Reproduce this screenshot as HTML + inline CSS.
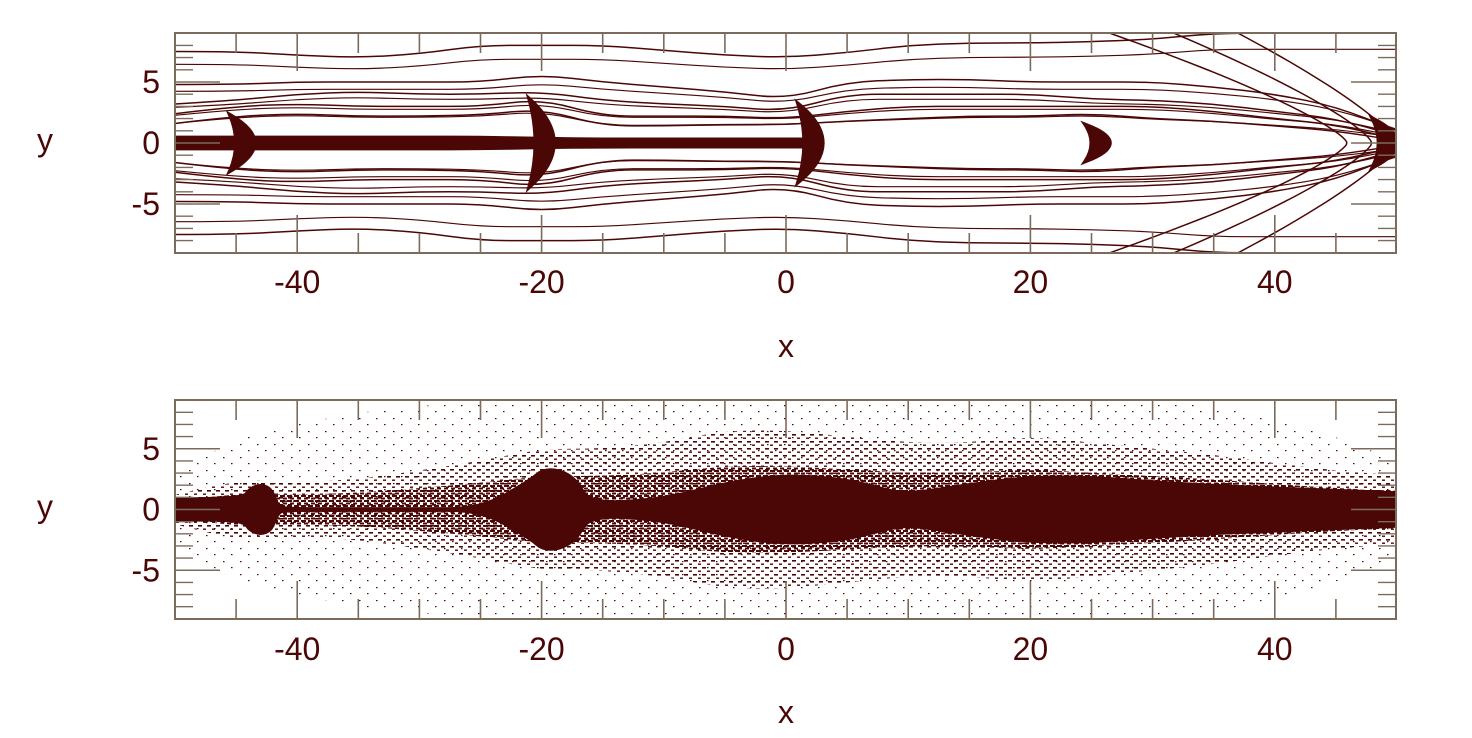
<!DOCTYPE html>
<html><head><meta charset="utf-8"><style>
body{margin:0;background:#fff;}
svg{display:block;font-family:"Liberation Sans",sans-serif;}
</style></head><body>
<svg id="c" width="1472" height="738" viewBox="0 0 1472 738"></svg>
<script>
const xsGrid=[-50,-45,-40,-35,-30,-25,-20,-15,-10,-5,0,5,10,15,20,25,30,35,40,45,50];
const contourL1=[7.5,7.5,7.2,7,7.3,8,8,8,7.6,7.2,7,7.4,8,8.2,8.2,8.3,8.5,9,9,9,9];
const contourL2=[4.8,4.8,5,5,5,5,5.6,5,4.6,4.2,3.6,5,5.2,5.2,5,5,5,4.6,4,3,1];
const contourL3=[3.2,3.5,4,4.2,4,4,4.2,3.5,3.2,3,2.6,4,4,4,4,3.6,3.5,3.2,2.6,2,0.6];
const contourL4=[2.4,3,3.2,3,3,3,3.6,2.2,2.2,2.2,2,2.6,3,3,3,3,3,2.6,2,1.5,0.3];
const contourL5=[1.6,2.2,2.4,2.2,2.2,2.3,2.8,1.4,1.4,1.5,1.5,1.8,2,2.2,2.2,2.4,2,1.8,1.4,1,0.2];
const bowOffsets=[0,2,4];
const blobX=[-44,-19.5,2.5,26,49.5];
const blobHalfH=[2.3,3.6,3.2,1.5,2];
const coreX=[-50,-45,-40,-35,-30,-25,-20,-15,-10,-5,0,3];
const coreHalf=[0.6,0.6,0.6,0.6,0.6,0.6,0.5,0.45,0.45,0.45,0.45,0.45];
const denseX=[-50,-44.5,-44,-43,-42,-41.5,-41,-35,-30,-25,-21,-20,-18.5,-17,-16,-10,-5,0,5,8,10,15,20,25,30,35,40,45,50];
const denseHalf=[1,1,1.8,2.2,1.8,0.4,0.2,0.2,0.2,0.2,2.5,3.4,3.4,2.5,0.6,1,2.3,3,2.6,1.8,1.4,2.2,2.8,2.8,2.4,2.1,1.9,1.7,1.5];
const scatterX=[-50,-45,-40,-35,-30,-25,-20,-15,-10,-5,0,5,10,15,20,25,30,35,40,45,50];
const scatterHalf=[1.2,2.5,2.2,2.5,3.2,4,5,5,5.5,6.5,6.5,6,5.5,5.5,6,5.5,5,4.5,3.8,3.2,2.8];
const sparseHalf=[3,6,7,8,8.5,9,9,9,9,9,9,9,9,9,9,9,9,8.5,7.5,6,4];
const xTicks=[-40,-20,0,20,40];
const yTicks=[5,0,-5];

const svg=document.getElementById('c');
const NS='http://www.w3.org/2000/svg';
const INK='#4a0706', AX='#7b6b5c';
function el(t,a,p){const e=document.createElementNS(NS,t);for(const k in a)e.setAttribute(k,a[k]);(p||svg).appendChild(e);return e;}
const X=x=>175+(x+50)*12.22;
const Y1=y=>143-y*12.2;
const Y2=y=>509.5-y*12.15;
function smooth(pts){let d='M'+pts[0][0]+','+pts[0][1];for(let i=1;i<pts.length-1;i++){const mx=(pts[i][0]+pts[i+1][0])/2,my=(pts[i][1]+pts[i+1][1])/2;d+=' Q'+pts[i][0]+','+pts[i][1]+' '+mx+','+my;}const l=pts[pts.length-1];d+=' L'+l[0]+','+l[1];return d;}
function band(xs,hs,Y){const up=xs.map((x,i)=>[X(x),Y(hs[i])]);const dn=xs.map((x,i)=>[X(x),Y(-hs[i])]).reverse();return smooth(up)+' L'+dn[0][0]+','+dn[0][1]+' '+smooth(dn).slice(1)+' Z';}

const defs=el('defs',{});
const pat=el('pattern',{id:'dots',width:9,height:7,patternUnits:'userSpaceOnUse'},defs);
el('rect',{x:0,y:0,width:4,height:1.6,fill:INK},pat);
el('rect',{x:5,y:3.5,width:3,height:1.4,fill:INK},pat);
const pat2=el('pattern',{id:'sparse',width:17,height:13,patternUnits:'userSpaceOnUse'},defs);
el('rect',{x:2,y:2,width:1.5,height:1.2,fill:INK},pat2);
el('rect',{x:10,y:8,width:1.5,height:1.2,fill:INK},pat2);
const pat3=el('pattern',{id:'mid',width:7,height:5,patternUnits:'userSpaceOnUse'},defs);
el('rect',{x:0,y:0,width:5,height:2,fill:INK},pat3);
el('rect',{x:3,y:2.5,width:4,height:2,fill:INK},pat3);
const cp1w=el('clipPath',{id:'cp1'},defs);el('rect',{x:175,y:33,width:1221,height:220},cp1w);
const cp2w=el('clipPath',{id:'cp2'},defs);el('rect',{x:175,y:400,width:1221,height:219},cp2w);

function axes(top,bot,Y,labY,xlabY,name){
  const g=el('g',{},svg);
  for(let x=-45;x<=45;x+=5){const L=(x%20===0)?38:20;
    el('line',{x1:X(x),x2:X(x),y1:top,y2:top+L,stroke:AX,'stroke-width':1.6},g);
    el('line',{x1:X(x),x2:X(x),y1:bot,y2:bot-L,stroke:AX,'stroke-width':1.6},g);}
  for(let y=-8;y<=8;y++){const L=(y%5===0)?45:18;
    el('line',{x1:175,x2:175+L,y1:Y(y),y2:Y(y),stroke:AX,'stroke-width':1.4},g);
    el('line',{x1:1396,x2:1396-L,y1:Y(y),y2:Y(y),stroke:AX,'stroke-width':1.4},g);}
  el('rect',{x:175,y:top,width:1221,height:bot-top,fill:'none',stroke:AX,'stroke-width':2},g);
  xTicks.forEach(v=>{const t=el('text',{x:X(v),y:labY,'text-anchor':'middle','font-size':32,fill:INK},g);t.textContent=v;});
  yTicks.forEach(v=>{const t=el('text',{x:160,y:Y(v)+11,'text-anchor':'end','font-size':32,fill:INK},g);t.textContent=v;});
  const xl=el('text',{x:786,y:xlabY,'text-anchor':'middle','font-size':32,fill:INK},g);xl.textContent='x';
  const yl=el('text',{x:45,y:(top+bot)/2+8,'text-anchor':'middle','font-size':32,fill:INK},g);yl.textContent='y';
}

const gt=el('g',{'clip-path':'url(#cp1)'});
[contourL1,contourL2,contourL3,contourL4,contourL5].forEach((L,k)=>{
  [1,-1].forEach(s=>{const p=el('path',{d:smooth(xsGrid.map((x,i)=>[X(x),Y1(s*L[i])])),fill:'none',stroke:INK,'stroke-width':1.5},gt);});
  [1,-1].forEach(s=>{el('path',{d:smooth(xsGrid.map((x,i)=>[X(x),Y1(s*(L[i]*0.82+0.3))])),fill:'none',stroke:INK,'stroke-width':1.2},gt);});
});
bowOffsets.forEach(o=>{const pts=[];for(let y=-9;y<=9;y+=0.5){pts.push([X(50-o-13*Math.pow(Math.abs(y)/9,1.3)*(1+o/8)),Y1(y)]);}
  const p=el('path',{d:smooth(pts),fill:'none',stroke:INK,'stroke-width':1.5},gt);});
const cb=el('path',{d:band(coreX,coreHalf,Y1),fill:INK},gt);
blobX.forEach((bx,i)=>{const h=blobHalfH[i];
  const p=el('path',{d:`M${X(bx-1.5)},${Y1(h)} Q${X(bx+2.5)},${Y1(0)} ${X(bx-1.5)},${Y1(-h)} Q${X(bx-0.5)},${Y1(0)} ${X(bx-1.5)},${Y1(h)} Z`,fill:INK,stroke:INK,'stroke-width':4},gt);
  });
axes(33,253,Y1,293,357,'top');

const gb=el('g',{'clip-path':'url(#cp2)'});
const s0=el('path',{d:band(scatterX,sparseHalf,Y2),fill:'url(#sparse)'},gb);
const s1=el('path',{d:band(scatterX,scatterHalf,Y2),fill:'url(#dots)'},gb);
const s1b=el('path',{d:band(scatterX,scatterHalf.map(h=>h*0.55),Y2),fill:'url(#mid)'},gb);
const s2=el('path',{d:band(denseX,denseHalf,Y2),fill:INK},gb);
axes(400,619,Y2,660,723,'bottom');
</script>
</body></html>
